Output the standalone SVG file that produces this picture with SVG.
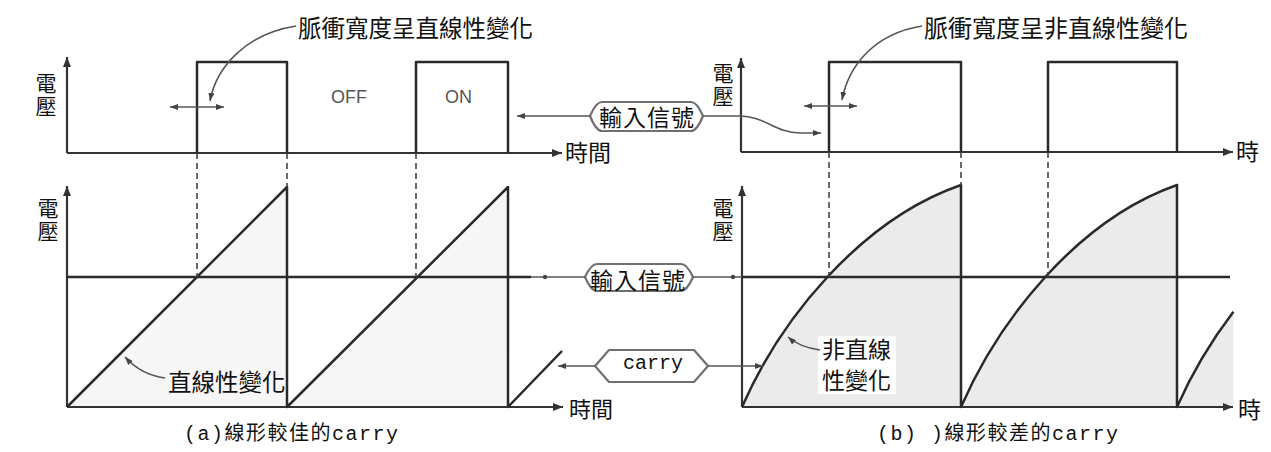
<svg xmlns="http://www.w3.org/2000/svg" width="1271" height="452" viewBox="0 0 1271 452">
<style>
.ln{stroke:#2a2a2a;stroke-width:2.5;fill:none;stroke-linejoin:round}
.ax{stroke:#333;stroke-width:2.2;fill:none}
.ds{stroke:#444;stroke-width:1.6;stroke-dasharray:6 4;fill:none}
.th{stroke:#555;stroke-width:1.6;fill:none}
.pill{stroke:#707070;stroke-width:2.2;fill:#fff;stroke-linejoin:round}
.cjk{font-family:"Noto Sans CJK TC","Noto Sans CJK SC",sans-serif;fill:#111}
.vt{font-family:"Noto Sans CJK TC","Noto Sans CJK SC",sans-serif;fill:#111;writing-mode:vertical-rl;font-size:21px;letter-spacing:2px}
.mono{font-family:"Liberation Mono","Noto Sans CJK TC",monospace;fill:#111}
.lat{font-family:"Liberation Sans",Arial,sans-serif;fill:#555}
.shade{fill:#ebebeb;stroke:none}
.shadeL{fill:#f6f6f6;stroke:none}
</style>
<defs>
<marker id="ah" viewBox="0 0 10 8" refX="10" refY="4" markerWidth="10" markerHeight="8" markerUnits="userSpaceOnUse" orient="auto">
<path d="M0,0 L10,4 L0,8 Z" fill="#333"/>
</marker>
<marker id="as" viewBox="0 0 8 6" refX="8" refY="3" markerWidth="8" markerHeight="6" markerUnits="userSpaceOnUse" orient="auto">
<path d="M0,0 L8,3 L0,6 Z" fill="#444"/>
</marker>
<marker id="asr" viewBox="0 0 8 6" refX="0" refY="3" markerWidth="8" markerHeight="6" markerUnits="userSpaceOnUse" orient="auto">
<path d="M8,0 L0,3 L8,6 Z" fill="#444"/>
</marker>
</defs>
<rect width="1271" height="452" fill="#fff"/>

<!-- shading -->
<g id="shading">
<path class="shadeL" d="M67,407 L287,187 L287,407 Z"/>
<path class="shadeL" d="M287,407 L508,187 L508,407 Z"/>
<path class="shade" d="M742,407 C780,320 860,220 961,185 L961,407 Z"/>
<path class="shade" d="M961,407 C999,320 1077,220 1177,185 L1177,407 Z"/>
<path class="shade" d="M1177,407 C1190.7,375.7 1209.8,342.7 1233.4,311.7 L1233.4,407 Z"/>
</g>

<!-- top-left pulse chart -->
<g id="pulse-left">
<line class="ax" x1="67" y1="153" x2="67" y2="57" marker-end="url(#ah)"/>
<line class="ax" x1="67" y1="153" x2="562" y2="153" marker-end="url(#ah)"/>
<path class="ln" d="M197,153 V62 H287 V153"/>
<path class="ln" d="M416,153 V62 H508 V153"/>
<text class="vt" x="46" y="73">電壓</text>
<text class="cjk" x="565" y="161" font-size="23">時間</text>
<text class="lat" x="331" y="103" font-size="18">OFF</text>
<text class="lat" x="445" y="103" font-size="18">ON</text>
<text class="cjk" x="298" y="37" font-size="23.5">脈衝寬度呈直線性變化</text>
</g>

<!-- top-right pulse chart -->
<g id="pulse-right">
<line class="ax" x1="741" y1="152" x2="741" y2="58" marker-end="url(#ah)"/>
<line class="ax" x1="741" y1="152" x2="1233" y2="152" marker-end="url(#ah)"/>
<path class="ln" d="M829,152 V62 H961 V152"/>
<path class="ln" d="M1048,152 V62 H1177 V152"/>
<text class="vt" x="723" y="63">電壓</text>
<text class="cjk" x="1236" y="160" font-size="23">時</text>
<text class="cjk" x="924" y="37" font-size="24">脈衝寬度呈非直線性變化</text>
</g>

<!-- bottom-left linear carry -->
<g id="carry-left">
<line class="ax" x1="67" y1="407" x2="67" y2="186" marker-end="url(#ah)"/>
<line class="ax" x1="67" y1="407" x2="563" y2="407" marker-end="url(#ah)"/>
<line class="ln" x1="67" y1="277" x2="531" y2="277"/>
<path class="ln" d="M67,407 L287,187 V407 L508,187 V407 L562,351"/>
<text class="vt" x="48" y="198">電壓</text>
<text class="cjk" x="569" y="417" font-size="22">時間</text>
<text class="cjk" x="168" y="391" font-size="23.5">直線性變化</text>
<text class="mono" x="184" y="440" font-size="20" letter-spacing="1.5">(a)線形較佳的carry</text>
</g>

<!-- bottom-right nonlinear carry -->
<g id="carry-right">
<line class="ax" x1="742" y1="407" x2="742" y2="186" marker-end="url(#ah)"/>
<line class="ax" x1="742" y1="407" x2="1233" y2="407" marker-end="url(#ah)"/>
<line class="ln" x1="742" y1="277" x2="1230" y2="277"/>
<path class="ln" d="M742,407 C780,320 860,220 961,185 V407 C999,320 1077,220 1177,185 V407 C1190.7,375.7 1209.8,342.7 1233.4,311.7"/>
<text class="vt" x="723" y="198">電壓</text>
<text class="cjk" x="1238" y="418" font-size="23">時</text>
<rect x="818" y="336" width="78" height="58" fill="#fff"/>
<text class="cjk" x="822" y="358" font-size="23">非直線</text>
<text class="cjk" x="822" y="389" font-size="23">性變化</text>
<text class="mono" x="877" y="440" font-size="20" letter-spacing="1.5">(b) )線形較差的carry</text>
</g>

<!-- labels in the middle -->
<g id="label-input-top">
<path class="pill" d="M602,102 H691 Q697,102 703,116 Q697,131 691,131 H602 Q596,131 590,116 Q596,102 602,102 Z"/>
<text class="cjk" x="599" y="126" font-size="23" letter-spacing="1">輸入信號</text>
</g>
<g id="label-input-bottom">
<path class="pill" d="M597,264 H681 Q687,264 693,277 Q687,291 681,291 H597 Q591,291 585,277 Q591,264 597,264 Z"/>
<text class="cjk" x="590" y="289" font-size="23" letter-spacing="1">輸入信號</text>
</g>
<g id="label-carry">
<path class="pill" d="M609,350 H694 L708,366 L694,382 H609 L595,366 Z"/>
<text class="mono" x="623" y="369" font-size="20">carry</text>
</g>

<!-- connectors -->
<g id="connectors">
<line class="ds" x1="197" y1="153" x2="197" y2="277"/>
<line class="ds" x1="287" y1="153" x2="287" y2="187"/>
<line class="ds" x1="416" y1="153" x2="416" y2="277"/>
<line class="ds" x1="829" y1="152" x2="829" y2="277"/>
<line class="ds" x1="961" y1="152" x2="961" y2="185"/>
<line class="ds" x1="1048" y1="152" x2="1048" y2="277"/>
<line class="th" x1="170" y1="107" x2="224" y2="107" marker-start="url(#asr)" marker-end="url(#as)"/>
<line class="th" x1="804" y1="106" x2="857" y2="106" marker-start="url(#asr)" marker-end="url(#as)"/>
<path class="th" d="M296,26 C245,34 216,68 210,101" marker-end="url(#as)"/>
<path class="th" d="M922,26 C872,34 848,68 842,100" marker-end="url(#as)"/>
<line class="th" x1="590" y1="116" x2="517" y2="116" marker-end="url(#as)"/>
<path class="th" d="M703,116 H740 C765,116 775,133 800,133 H821" marker-end="url(#as)"/>
<line class="th" x1="531" y1="277" x2="585" y2="277"/>
<circle cx="545" cy="277" r="2.2" fill="#444"/>
<line class="th" x1="693" y1="277" x2="742" y2="277"/>
<circle cx="733" cy="277" r="2.2" fill="#444"/>
<line class="th" x1="595" y1="366" x2="558" y2="366" marker-end="url(#as)"/>
<line class="th" x1="708" y1="366" x2="763" y2="366" marker-end="url(#as)"/>
<path class="th" d="M165,378 C149,376 136,369 125,357" marker-end="url(#as)"/>
<path class="th" d="M820,350 C806,348 796,344 788,337" marker-end="url(#as)"/>
</g>
</svg>
